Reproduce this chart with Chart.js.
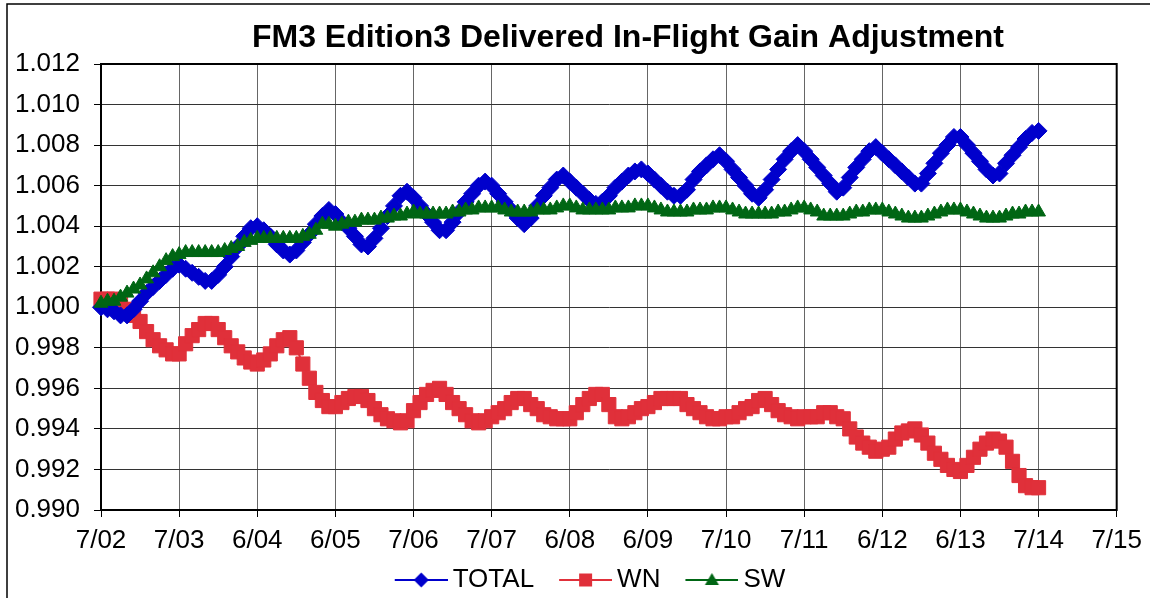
<!DOCTYPE html>
<html>
<head>
<meta charset="utf-8">
<title>FM3 Edition3 Delivered In-Flight Gain Adjustment</title>
<style>
  html, body { margin: 0; padding: 0; background: #fff; }
  #wrap { position: relative; width: 1150px; height: 598px; }
</style>
</head>
<body>
<div id="wrap"><canvas id="gainChart" width="1150" height="598"></canvas></div>
<script src="https://cdn.jsdelivr.net/npm/chart.js@4.4.1/dist/chart.umd.min.js"></script>
<script>
const chartTitle = "FM3 Edition3 Delivered In-Flight Gain Adjustment";
const dayLabels = ["7/02", "7/03", "6/04", "6/05", "7/06", "7/07", "6/08",
                   "6/09", "7/10", "7/11", "6/12", "6/13", "7/14", "7/15"];
const hoursPerSample = 2;

// one value every 2 hours (12 per row = 1 day)
const totalGain = [
  1.0000, 0.9999, 0.9998, 0.9996, 0.9996, 0.9999, 1.0003, 1.0007, 1.0010, 1.0013, 1.0016, 1.0019,
  1.0021, 1.0019, 1.0017, 1.0015, 1.0013, 1.0013, 1.0016, 1.0020, 1.0025, 1.0030, 1.0035, 1.0039,
  1.0040, 1.0038, 1.0035, 1.0031, 1.0028, 1.0026, 1.0028, 1.0032, 1.0036, 1.0041, 1.0045, 1.0048,
  1.0046, 1.0042, 1.0039, 1.0035, 1.0031, 1.0030, 1.0034, 1.0039, 1.0045, 1.0050, 1.0055, 1.0057,
  1.0054, 1.0050, 1.0046, 1.0042, 1.0038, 1.0038, 1.0042, 1.0047, 1.0052, 1.0056, 1.0060, 1.0062,
  1.0060, 1.0056, 1.0052, 1.0048, 1.0044, 1.0041, 1.0044, 1.0050, 1.0055, 1.0059, 1.0063, 1.0065,
  1.0062, 1.0059, 1.0056, 1.0053, 1.0051, 1.0052, 1.0055, 1.0059, 1.0062, 1.0065, 1.0067, 1.0068,
  1.0066, 1.0063, 1.0060, 1.0057, 1.0055, 1.0055, 1.0058, 1.0063, 1.0067, 1.0070, 1.0073, 1.0075,
  1.0072, 1.0068, 1.0064, 1.0060, 1.0056, 1.0054, 1.0058, 1.0063, 1.0068, 1.0073, 1.0077, 1.0080,
  1.0077, 1.0073, 1.0069, 1.0065, 1.0061, 1.0057, 1.0059, 1.0064, 1.0069, 1.0073, 1.0077, 1.0079,
  1.0076, 1.0073, 1.0070, 1.0067, 1.0064, 1.0061, 1.0061, 1.0066, 1.0071, 1.0076, 1.0080, 1.0084,
  1.0084, 1.0080, 1.0076, 1.0072, 1.0068, 1.0065, 1.0066, 1.0071, 1.0075, 1.0079, 1.0083, 1.0086,
  1.0087
];
const wnGain = [
  1.0004, 1.0004, 1.0004, 1.0003, 0.9999, 0.9996, 0.9993, 0.9988, 0.9984, 0.9981, 0.9979, 0.9977,
  0.9977, 0.9982, 0.9986, 0.9989, 0.9992, 0.9992, 0.9989, 0.9985, 0.9981, 0.9978, 0.9975, 0.9973,
  0.9972, 0.9974, 0.9977, 0.9981, 0.9984, 0.9985, 0.9980, 0.9972, 0.9965, 0.9958, 0.9954, 0.9951,
  0.9951, 0.9953, 0.9955, 0.9956, 0.9956, 0.9954, 0.9950, 0.9947, 0.9945, 0.9944, 0.9943, 0.9944,
  0.9949, 0.9953, 0.9957, 0.9959, 0.9960, 0.9957, 0.9953, 0.9950, 0.9947, 0.9944, 0.9943, 0.9944,
  0.9946, 0.9948, 0.9950, 0.9953, 0.9955, 0.9955, 0.9952, 0.9950, 0.9947, 0.9946, 0.9945, 0.9945,
  0.9945, 0.9948, 0.9952, 0.9955, 0.9957, 0.9957, 0.9952, 0.9946, 0.9945, 0.9946, 0.9948, 0.9950,
  0.9951, 0.9953, 0.9955, 0.9955, 0.9955, 0.9955, 0.9952, 0.9950, 0.9948, 0.9946, 0.9945, 0.9945,
  0.9946, 0.9946, 0.9948, 0.9950, 0.9951, 0.9954, 0.9955, 0.9952, 0.9949, 0.9947, 0.9946, 0.9945,
  0.9946, 0.9946, 0.9946, 0.9948, 0.9948, 0.9946, 0.9945, 0.9940, 0.9936, 0.9933, 0.9931, 0.9929,
  0.9930, 0.9931, 0.9935, 0.9938, 0.9939, 0.9940, 0.9937, 0.9933, 0.9928, 0.9925, 0.9922, 0.9920,
  0.9919, 0.9922, 0.9926, 0.9930, 0.9933, 0.9935, 0.9934, 0.9931, 0.9924, 0.9917, 0.9912, 0.9911,
  0.9911
];
const swGain = [
  1.0002, 1.0003, 1.0003, 1.0005, 1.0007, 1.0009, 1.0011, 1.0014, 1.0017, 1.0020, 1.0023, 1.0025,
  1.0026, 1.0027, 1.0027, 1.0027, 1.0027, 1.0027, 1.0027, 1.0028, 1.0029, 1.0030, 1.0032, 1.0033,
  1.0034, 1.0034, 1.0034, 1.0034, 1.0034, 1.0034, 1.0034, 1.0035, 1.0036, 1.0038, 1.0041, 1.0041,
  1.0040, 1.0041, 1.0042, 1.0042, 1.0043, 1.0043, 1.0043, 1.0044, 1.0044, 1.0045, 1.0045, 1.0046,
  1.0047, 1.0046, 1.0046, 1.0046, 1.0046, 1.0046, 1.0047, 1.0047, 1.0048, 1.0048, 1.0049, 1.0049,
  1.0049, 1.0049, 1.0048, 1.0047, 1.0047, 1.0047, 1.0047, 1.0048, 1.0048, 1.0048, 1.0049, 1.0050,
  1.0050, 1.0049, 1.0048, 1.0048, 1.0048, 1.0048, 1.0048, 1.0049, 1.0049, 1.0049, 1.0050, 1.0050,
  1.0050, 1.0049, 1.0048, 1.0047, 1.0047, 1.0047, 1.0047, 1.0048, 1.0048, 1.0048, 1.0049, 1.0049,
  1.0049, 1.0048, 1.0047, 1.0046, 1.0046, 1.0046, 1.0046, 1.0046, 1.0047, 1.0047, 1.0048, 1.0049,
  1.0049, 1.0048, 1.0047, 1.0045, 1.0045, 1.0045, 1.0045, 1.0046, 1.0047, 1.0047, 1.0048, 1.0048,
  1.0048, 1.0047, 1.0046, 1.0045, 1.0044, 1.0044, 1.0044, 1.0045, 1.0046, 1.0047, 1.0048, 1.0048,
  1.0048, 1.0047, 1.0046, 1.0045, 1.0044, 1.0044, 1.0044, 1.0045, 1.0046, 1.0046, 1.0047, 1.0047,
  1.0047
];

const yMin = 0.990, yMax = 1.012, yStep = 0.002;
const fontFamily = '"Liberation Sans", Arial, sans-serif';

const BLUE = "#0000cc", RED = "#e0303a", GREEN = "#006614";

// turn a list of values into {x: day, y} points
function toPoints(values) {
  return values.map((v, i) => ({ x: i * hoursPerSample / 24, y: v }));
}

// Excel-style legend key: short line with the marker in the middle
function legendKey(color, shape) {
  const c = document.createElement("canvas");
  c.width = 85; c.height = 20;
  const g = c.getContext("2d");
  g.strokeStyle = color;
  g.fillStyle = color;
  g.lineWidth = 2;
  g.beginPath();
  g.moveTo(32, 10); g.lineTo(85, 10);
  g.stroke();
  const cx = 58.5, cy = 10;
  g.beginPath();
  if (shape === "diamond") {
    g.moveTo(cx, cy - 7.5); g.lineTo(cx + 7.5, cy); g.lineTo(cx, cy + 7.5); g.lineTo(cx - 7.5, cy);
  } else if (shape === "square") {
    g.rect(cx - 6.5, cy - 6.5, 13, 13);
  } else {
    g.moveTo(cx, cy - 7); g.lineTo(cx + 7, cy + 5); g.lineTo(cx - 7, cy + 5);
  }
  g.closePath();
  g.fill();
  return c;
}

const legendKeys = [
  { text: "TOTAL", key: legendKey(BLUE, "diamond") },
  { text: "WN", key: legendKey(RED, "square") },
  { text: "SW", key: legendKey(GREEN, "triangle") }
];

const framePlugin = {
  id: "frame",
  beforeDraw(chart) {
    const ctx = chart.ctx;
    ctx.save();
    ctx.strokeStyle = "#000";
    ctx.lineWidth = 1.5;
    ctx.beginPath();
    ctx.moveTo(7, chart.height);
    ctx.lineTo(7, 4);
    ctx.lineTo(chart.width, 4);
    ctx.stroke();
    ctx.restore();
  },
  beforeDatasetsDraw(chart) {
    const a = chart.chartArea;
    const ctx = chart.ctx;
    ctx.save();
    ctx.strokeStyle = "#000";
    ctx.lineWidth = 2;
    ctx.strokeRect(a.left, a.top, a.right - a.left, a.bottom - a.top);
    ctx.restore();
  },
  afterDraw(chart) {
    const ctx = chart.ctx;
    ctx.save();
    ctx.font = "bold 32px " + fontFamily;
    ctx.fillStyle = "#000";
    ctx.textAlign = "center";
    ctx.textBaseline = "middle";
    ctx.fillText(chartTitle, 628, 38);
    ctx.restore();
  }
};

Chart.defaults.font.family = fontFamily;
Chart.defaults.color = "#000";

new Chart(document.getElementById("gainChart"), {
  type: "line",
  data: {
    datasets: [
      {
        label: "TOTAL",
        data: toPoints(totalGain),
        borderColor: BLUE,
        backgroundColor: BLUE,
        borderWidth: 2,
        pointStyle: "rectRot",
        pointRadius: 8.5,
        pointBorderWidth: 1,
        order: 2
      },
      {
        label: "WN",
        data: toPoints(wnGain),
        borderColor: RED,
        backgroundColor: RED,
        borderWidth: 2,
        pointStyle: "rect",
        pointRadius: 10,
        pointBorderWidth: 1,
        order: 3
      },
      {
        label: "SW",
        data: toPoints(swGain),
        borderColor: GREEN,
        backgroundColor: GREEN,
        borderWidth: 2,
        pointStyle: "triangle",
        pointRadius: 8,
        pointBorderWidth: 1,
        order: 1
      }
    ]
  },
  options: {
    responsive: false,
    animation: false,
    clip: false,
    layout: { padding: { left: 10, right: 4, top: 64, bottom: -5 } },
    plugins: {
      title: { display: false },
      tooltip: { enabled: false },
      legend: {
        position: "bottom",
        labels: {
          usePointStyle: true,
          pointStyleWidth: 69,
          padding: 1,
          font: { size: 26 },
          generateLabels: () => legendKeys.map((k, i) => ({
            text: k.text,
            pointStyle: k.key,
            fillStyle: "transparent",
            strokeStyle: "transparent",
            lineWidth: 0,
            datasetIndex: i,
            hidden: false
          }))
        }
      }
    },
    scales: {
      x: {
        type: "linear",
        min: 0,
        max: dayLabels.length - 1,
        afterFit: (s) => { s.height = 56; },
        ticks: {
          stepSize: 1,
          autoSkip: false,
          maxRotation: 0,
          padding: 8,
          font: { size: 26 },
          callback: (v) => dayLabels[Math.round(v)]
        },
        grid: {
          color: "#666",
          lineWidth: 1,
          borderDash: [3, 2],
          tickLength: 7,
          tickColor: "#000",
          tickBorderDash: []
        },
        border: { display: true, color: "#000", width: 2 }
      },
      y: {
        min: yMin,
        max: yMax,
        afterFit: (s) => { s.width = 91; },
        ticks: {
          stepSize: yStep,
          padding: 14,
          font: { size: 26 },
          callback: (v) => v.toFixed(3)
        },
        grid: {
          color: "#333",
          lineWidth: 1,
          borderDash: [2, 1],
          tickLength: 7,
          tickColor: "#000",
          tickBorderDash: []
        },
        border: { display: true, color: "#000", width: 2 }
      },
      // empty right-hand strip that keeps room for the last x label
      rightGap: {
        axis: "y",
        position: "right",
        display: true,
        afterFit: (s) => { s.width = 28; },
        ticks: { display: false },
        grid: { display: false, drawTicks: false },
        border: { display: false }
      }
    }
  },
  plugins: [framePlugin]
});
</script>
</body>
</html>
